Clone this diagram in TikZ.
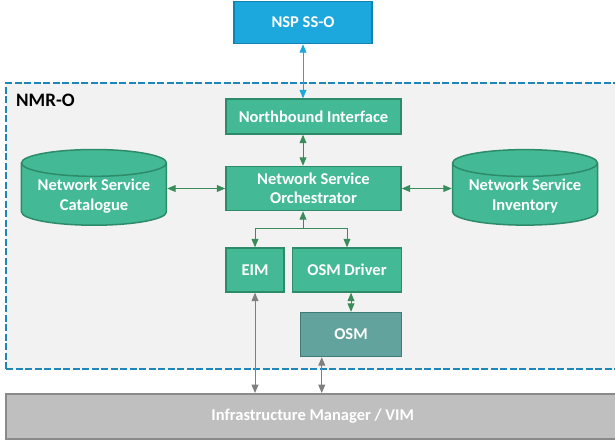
\documentclass[tikz,border=0pt]{standalone}
\usepackage{fontspec}
\setmainfont{Carlito}
\usetikzlibrary{shapes,arrows,calc,positioning}
\definecolor{nfvgreen}{RGB}{67,186,149}
\definecolor{nfvborder}{RGB}{46,139,106}
\definecolor{linkgreen}{RGB}{58,140,90}
\definecolor{nspblue}{RGB}{28,168,221}
\definecolor{nspborder}{RGB}{19,130,176}
\definecolor{framecol}{RGB}{30,134,186}
\definecolor{framefill}{RGB}{242,242,242}
\definecolor{osmteal}{RGB}{99,163,157}
\definecolor{osmborder}{RGB}{62,124,117}
\definecolor{imgrey}{RGB}{191,191,191}
\definecolor{imborder}{RGB}{138,138,138}
\definecolor{linkgrey}{RGB}{127,127,127}
\tikzset{
    block/.style = {draw=nfvborder, fill=nfvgreen, rectangle,
        line width=1.5pt, text=white, align=center, inner sep=2pt,
        font=\fontsize{16.5}{19.5}\selectfont\bfseries,
        minimum height=44pt},
    store/.style = {block, cylinder, shape border rotate=90, aspect=0.23,
        minimum width=145pt, minimum height=73pt},
    frame/.style = {draw=framecol, fill=framefill, line width=2pt,
        dash pattern=on 7pt off 2.5pt},
    link/.style = {<->, draw=linkgreen, line width=0.9pt},
    greylink/.style = {<->, draw=linkgrey, line width=0.9pt},
}
\begin{document}
\begin{tikzpicture}[auto, node distance=1cm, >=triangle 45, x=1pt, y=-1pt]
    \clip (0,0) rectangle (615,439);
    % NMR-O area
    \node [frame, anchor=north west, minimum width=620pt, minimum height=286pt] (nmr) at (5,82) {};
    \node [anchor=base west, inner sep=0pt, font=\fontsize{19}{21}\selectfont\bfseries] (nmrlabel) at (16,106) {NMR-O};

    \node [block, minimum width=175pt, minimum height=35pt] (nbi) at (313.5,116.5) {Northbound Interface};
    \node [block, fill=nspblue, draw=nspborder, minimum width=138pt, minimum height=42pt,
        above=54pt of nbi, xshift=-10.5pt] (nsp) {NSP SS-O};

    \node [block, minimum width=175pt, below=31pt of nbi] (orch) {Network Service\\Orchestrator};
    \node [store, left=58pt of orch, yshift=-7.5pt] (cat) {Network Service\\Catalogue};
    \node [store, right=50pt of orch, yshift=-7.5pt] (inv) {Network Service\\Inventory};

    \node [block, minimum width=58pt, below=36pt of orch.south west, anchor=north west] (eim) {EIM};
    \node [block, minimum width=109pt, right=7pt of eim] (drv) {OSM Driver};
    \node [block, fill=osmteal, draw=osmborder, minimum width=101pt,
        below=19pt of drv, xshift=4pt] (osm) {OSM};

    \node [block, fill=imgrey, draw=imborder, minimum width=614pt, minimum height=45pt,
        anchor=north west] (im) at (5,393) {Infrastructure Manager / VIM};

    %% connecting lines
    \draw [link, draw=nspblue] (nsp.south) -- (nsp.south |- nbi.north);
    \draw [link] (nbi.south -| nsp) -- (orch.north -| nsp);
    \draw [link] (cat.east |- orch) -- (orch);
    \draw [link] (orch) -- (orch -| inv.west);
    \coordinate (split) at ($(orch.south -| nsp)+(0,-17pt)$);
    \draw [link, <-] (orch.south -| nsp) -- (split);
    \draw [link, ->] (split) -| (eim);
    \draw [link, ->] (split) -| (drv);
    \draw [link] (drv.south -| osm) -- (osm);
    \draw [greylink] (eim.south) -- (eim.south |- im.north);
    \draw [greylink] ([xshift=22pt]osm.south west) -- ([xshift=22pt]osm.south west |- im.north);
\end{tikzpicture}
\end{document}
